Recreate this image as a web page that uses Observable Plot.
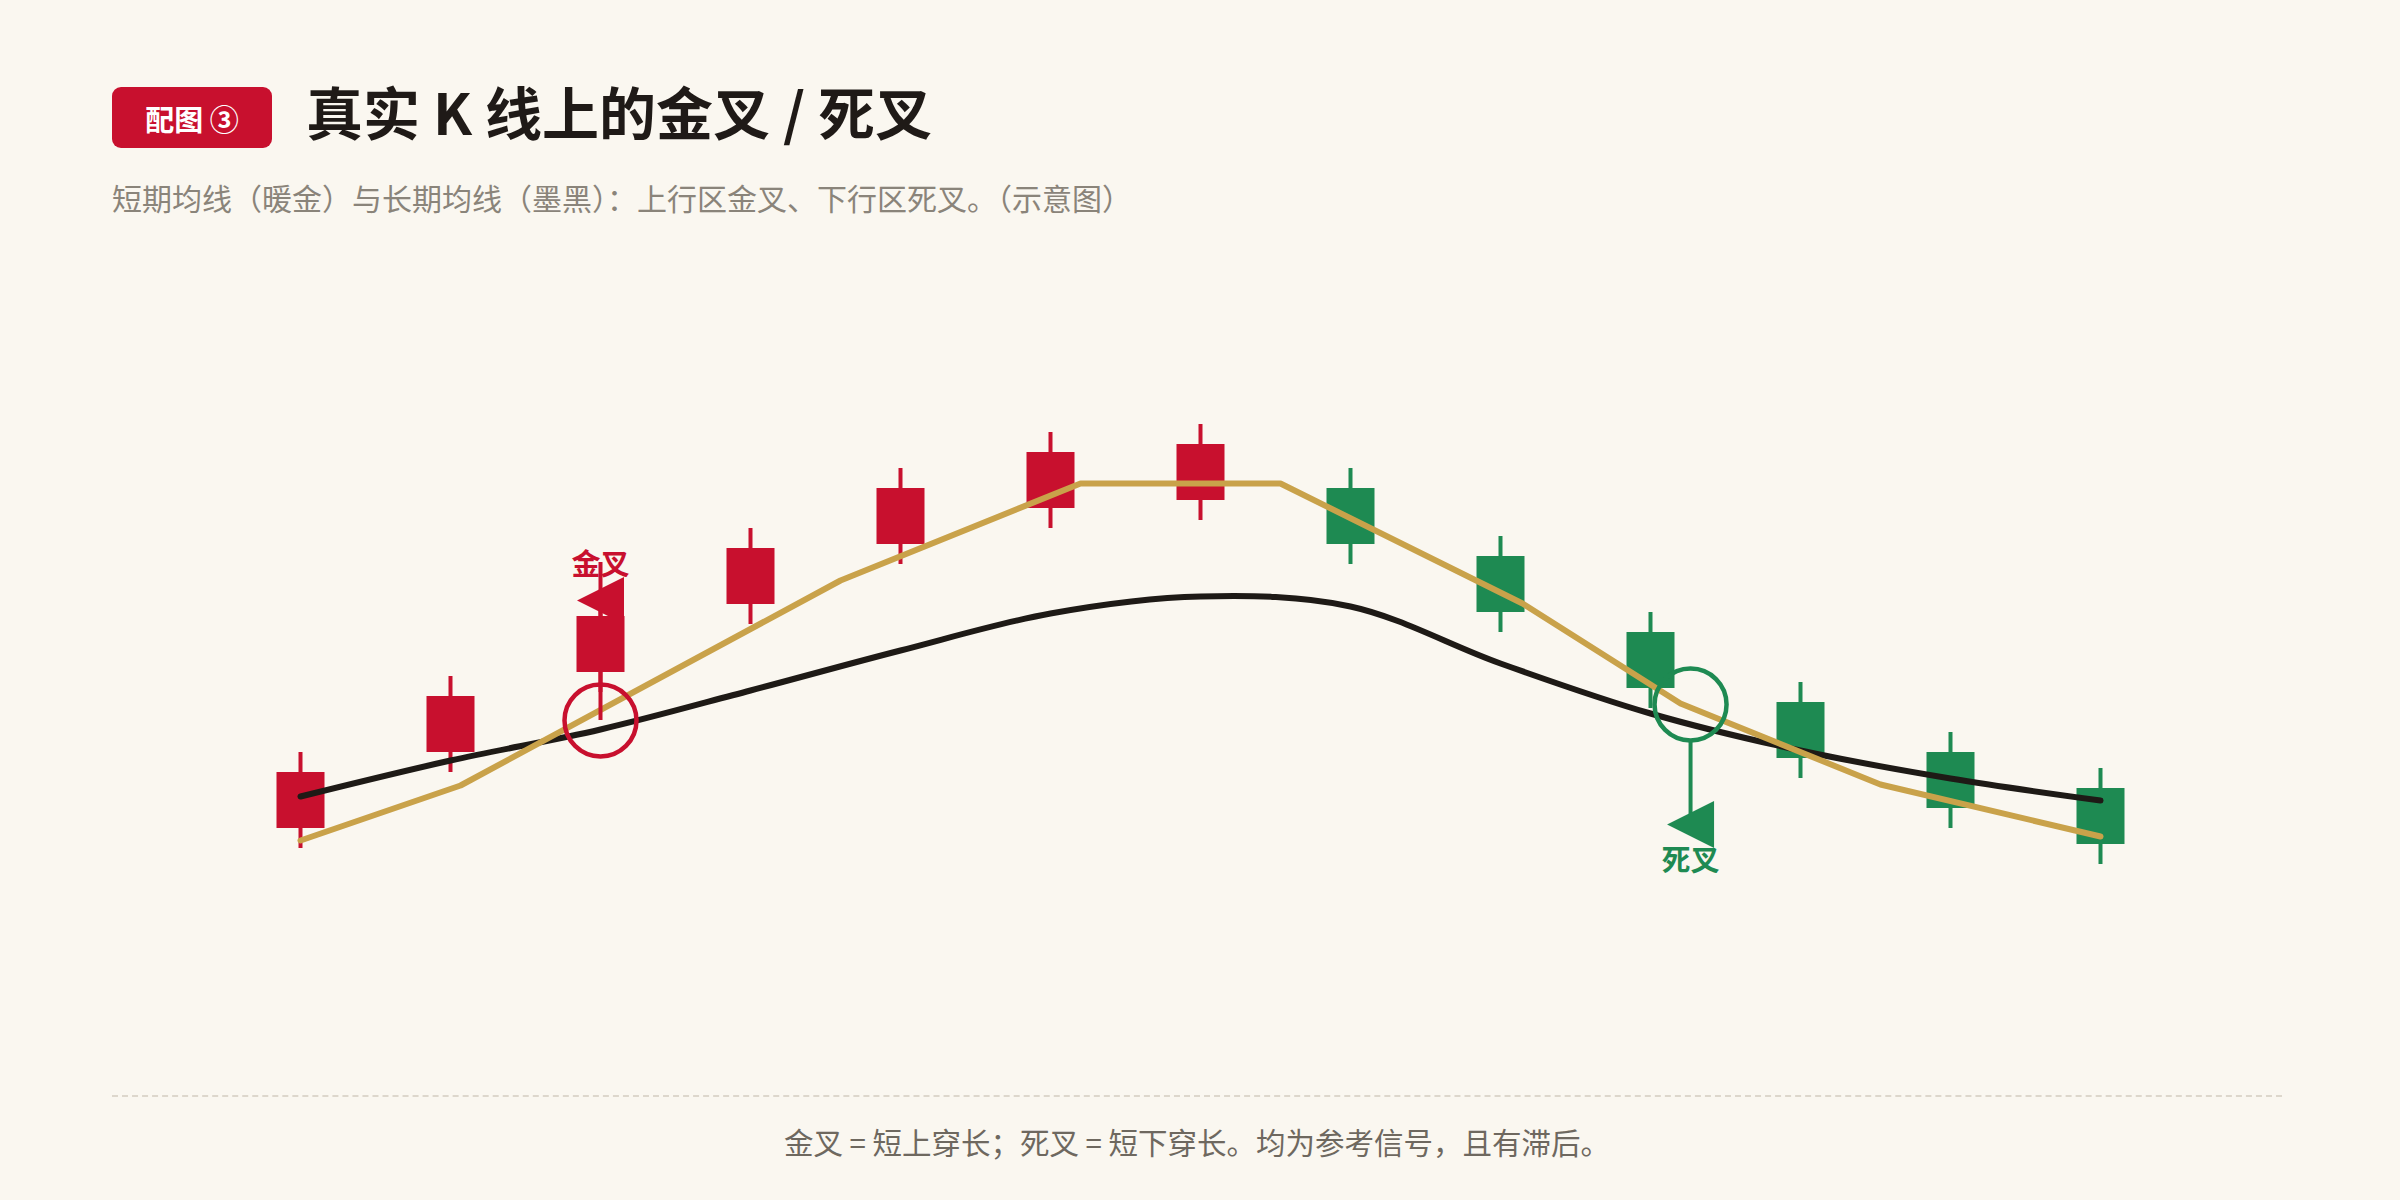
<!DOCTYPE html>
<html>
<head>
<meta charset="utf-8">
<script src="https://cdn.jsdelivr.net/npm/d3@7"></script>
<script src="https://cdn.jsdelivr.net/npm/@observablehq/plot@0.6"></script>
<style>
  html, body { margin: 0; padding: 0; background: #FAF7F0; }
  #page { position: relative; width: 2400px; height: 1200px; background: #FAF7F0; font-family: "Noto Sans CJK SC", "Noto Sans", sans-serif; overflow: hidden; }
  #badge { position: absolute; left: 112px; top: 87px; width: 160px; height: 61px; background: #C8102E; border-radius: 9px; color: #fff; font-weight: 700; font-size: 29px; display: flex; align-items: center; justify-content: center; }
  #title { position: absolute; left: 306px; top: 82px; font-size: 57px; line-height: 1; font-weight: 700; color: #1F1A17; white-space: nowrap; }
  #subtitle { position: absolute; left: 112px; top: 182px; font-size: 30px; line-height: 1; color: #8A847A; white-space: nowrap; }
  #chart { position: absolute; left: 0; top: 200px; }
  #rule { position: absolute; left: 112px; top: 1095px; width: 2170px; height: 0; border-top: 2px dashed #DDD7CC; }
  #footer { position: absolute; left: 112px; width: 2170px; top: 1127px; font-size: 29.5px; line-height: 1; color: #6E685F; text-align: center; white-space: nowrap; }
</style>
</head>
<body>
<div id="page">
  <div id="badge">配图 ③</div>
  <div id="title">真实 K 线上的金叉 / 死叉</div>
  <div id="subtitle">短期均线（暖金）与长期均线（墨黑）：上行区金叉、下行区死叉。（示意图）</div>
  <div id="chart"></div>
  <div id="rule"></div>
  <div id="footer">金叉 = 短上穿长；死叉 = 短下穿长。均为参考信号，且有滞后。</div>
</div>
<script>
// ---- data (price units are arbitrary) ----
const candleIndex = [0, 1, 2, 3, 4, 5, 6, 7, 8, 9, 10, 11, 12];
const openP  = [43, 62, 82, 99, 114, 123, 125, 128, 111, 92, 74.5, 62, 53];
const closeP = [57, 76, 96, 113, 128, 137, 139, 114, 97, 78, 60.5, 48, 39];
const highP  = [62, 81, 101, 118, 133, 142, 144, 133, 116, 97, 79.5, 67, 58];
const lowP   = [38, 57, 77, 94, 109, 118, 120, 109, 92, 73, 55.5, 43, 34];

// short MA (warm gold), vertices
const shortMaX = [0, 1.067, 3.6, 5.2, 6.533, 8.147, 9.2, 10.533, 12];
const shortMaY = [40, 53.75, 105, 129.25, 129.25, 99.25, 74.25, 54, 41];

// long MA (ink black), one value per candle
const longMaY = [51, 60, 67.75, 77.5, 87.5, 96.75, 101, 98.5, 84.25, 71.75, 62.5, 55.5, 50];

// crosses
const crossLabels = ["金叉", "死叉"];
const crossX = [2, 9.267];
const crossY = [70, 74];
const flagY = [100, 44];

// ---- colors ----
const RED = "#C8102E", GREEN = "#1E8A52", GOLD = "#C9A24A", INK = "#1E1A16";

const candles = candleIndex.map((i, k) => ({
  i, open: openP[k], close: closeP[k], high: highP[k], low: lowP[k],
  up: closeP[k] >= openP[k]
}));
const shortMa = shortMaX.map((x, k) => ({x, y: shortMaY[k]}));
const longMa = candleIndex.map((x, k) => ({x, y: longMaY[k]}));
const crosses = crossLabels.map((label, k) => ({
  label, x: crossX[k], y: crossY[k], fy: flagY[k], color: k === 0 ? RED : GREEN
}));

// left-pointing flag triangle symbol
const flagSymbol = {
  draw(context, size) {
    const h = Math.sqrt(size / Math.PI);
    context.moveTo(-h, 0);
    context.lineTo(h, -h);
    context.lineTo(h, h);
    context.closePath();
  }
};

const colorOf = d => d.up ? RED : GREEN;

const chart = Plot.plot({
  width: 2400,
  height: 880,
  x: {type: "linear", domain: [0, 12], range: [300, 2100], axis: null},
  y: {type: "linear", domain: [0, 200], range: [800, 0], axis: null},
  style: {background: "transparent", overflow: "visible"},
  marks: [
    // wicks
    Plot.ruleX(candles, {x: "i", y1: "low", y2: "high", stroke: colorOf, strokeWidth: 4}),
    // bodies
    Plot.ruleX(candles, {x: "i", y1: "open", y2: "close", stroke: colorOf, strokeWidth: 48, strokeLinecap: "butt"}),
    // long MA
    Plot.line(longMa, {x: "x", y: "y", stroke: INK, strokeWidth: 6, curve: "catmull-rom", strokeLinecap: "round"}),
    // short MA
    Plot.line(shortMa, {x: "x", y: "y", stroke: GOLD, strokeWidth: 6, strokeLinecap: "round", strokeLinejoin: "round"}),
    // connectors: golden cross (flag above), death cross (flag below)
    Plot.ruleX([crosses[0]], {x: "x", y1: "y", y2: "fy", stroke: d => d.color, strokeWidth: 4, insetBottom: 38}),
    Plot.ruleX([crosses[1]], {x: "x", y1: "y", y2: "fy", stroke: d => d.color, strokeWidth: 4, insetTop: 38}),
    // circles
    Plot.dot(crosses, {x: "x", y: "y", r: 36, stroke: d => d.color, strokeWidth: 4.5, fill: "none"}),
    // flags
    Plot.dot(crosses, {x: "x", y: "fy", r: 23.5, symbol: flagSymbol, fill: d => d.color, stroke: "none"}),
    // labels
    Plot.text([crosses[0]], {x: "x", y: "fy", text: "label", dy: -35, fill: d => d.color, fontSize: 29, fontWeight: 700, fontFamily: "Noto Sans CJK SC"}),
    Plot.text([crosses[1]], {x: "x", y: "fy", text: "label", dy: 37, fill: d => d.color, fontSize: 29, fontWeight: 700, fontFamily: "Noto Sans CJK SC"})
  ]
});
document.getElementById("chart").appendChild(chart);
</script>
</body>
</html>
